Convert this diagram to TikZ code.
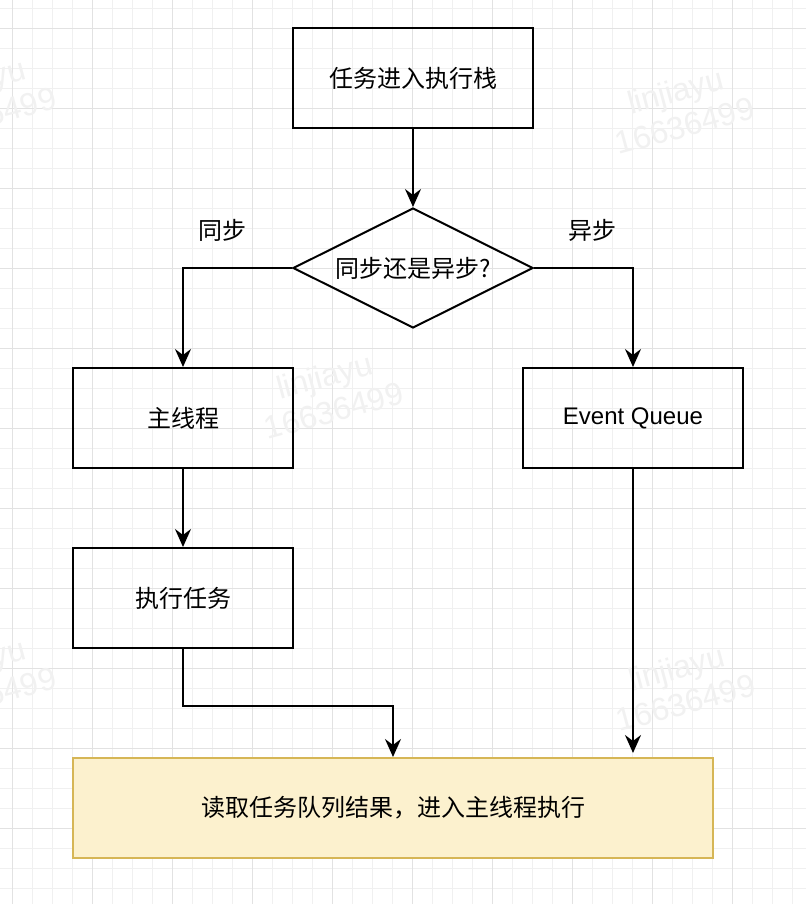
\documentclass[tikz,border=0pt]{standalone}
\usepackage{fontspec}
\setmainfont{Liberation Sans}
\newfontfamily\cjk{Noto Sans CJK SC}
\usetikzlibrary{shapes.geometric,arrows.meta}
\definecolor{gridminor}{HTML}{F0F0F0}
\definecolor{gridmajor}{HTML}{E2E2E2}
\definecolor{notefill}{HTML}{FCF1CE}
\definecolor{notedraw}{HTML}{D6B656}
\definecolor{wmark}{HTML}{F1F1F1}

\begin{document}
\begin{tikzpicture}[x=0.5pt,y=-0.5pt,
  box/.style={shape=rectangle, draw=black, line width=1pt, minimum width=110pt, minimum height=50pt, inner sep=0pt, font=\cjk\fontsize{12}{14}\selectfont},
  choice/.style={shape=diamond, draw=black, line width=1pt, aspect=2, minimum width=120pt, minimum height=60pt, inner sep=0pt, font=\cjk\fontsize{12}{14}\selectfont},
  tag/.style={font=\cjk\fontsize{12}{14}\selectfont},
  wm/.style={text=wmark, rotate=15, align=center, font=\fontsize{16}{18}\selectfont},
  flow/.style={line width=1pt, -{Stealth[length=9pt,width=8pt,inset=3pt]}}]
\useasboundingbox (0,0) rectangle (806,904);
\clip (0,0) rectangle (806,904);
\fill[white] (0,0) rectangle (806,904);
% grid
\foreach \x in {12.7,32.7,...,806} \draw[gridminor, line width=0.5pt] (\x,0) -- (\x,904);
\foreach \y in {8.3,28.3,...,904} \draw[gridminor, line width=0.5pt] (0,\y) -- (806,\y);
\foreach \x in {12.7,92.7,...,806} \draw[gridmajor, line width=0.5pt] (\x,0) -- (\x,904);
\foreach \y in {28.3,108.3,...,904} \draw[gridmajor, line width=0.5pt] (0,\y) -- (806,\y);
% watermarks
\node[wm](wm1) at (-18,98) {linjiayu\\16636499};
\node[wm](wm2) at (680,108) {linjiayu\\16636499};
\node[wm](wm3) at (329,393) {linjiayu\\16636499};
\node[wm](wm4) at (-18,678) {linjiayu\\16636499};
\node[wm](wm5) at (681,685) {linjiayu\\16636499};
% flow
\node[box, minimum width=120pt](push) at (413,78) {任务进入执行栈};
\node[choice](ask) at (413,268) {同步还是异步?};
\node[box](main) at (183,418) {主线程};
\node[box, font=\fontsize{12}{14}\selectfont](queue) at (633,418) {Event Queue};
\node[box](run) at (183,598) {执行任务};
\node[box, draw=notedraw, fill=notefill, minimum width=320pt](result) at (393,808) {读取任务队列结果，进入主线程执行};
\node[tag](sync) at (222,230) {同步};
\node[tag](async) at (592,230) {异步};
\draw[flow] (push) -- (ask);
\draw[flow] (ask.west) -| (main);
\draw[flow] (ask.east) -| (queue);
\draw[flow] (main) -- (run);
\draw[flow] (run.south) -- ++(0,57) -| (result.north);
\draw[flow, shorten >=2pt] (queue.south) -- (queue.south |- result.north);
\end{tikzpicture}
\end{document}
